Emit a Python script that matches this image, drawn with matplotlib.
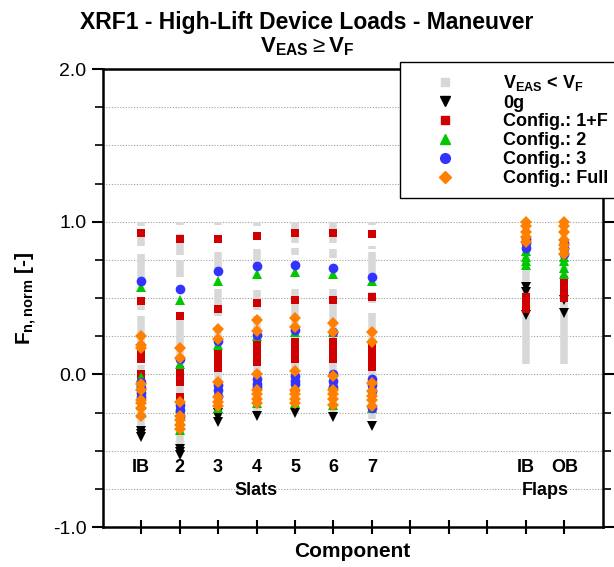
import numpy as np
import matplotlib
matplotlib.use("Agg")
import matplotlib.pyplot as plt
from matplotlib.lines import Line2D
from matplotlib.ticker import MultipleLocator

plt.rcParams['font.family'] = ['Liberation Sans', 'DejaVu Sans']
plt.rcParams['mathtext.fontset'] = 'custom'
plt.rcParams['mathtext.rm'] = 'Liberation Sans'
plt.rcParams['mathtext.bf'] = 'Liberation Sans:bold'

# components: slats IB,2..7 and flaps IB/OB
comp_x = [1, 2, 3, 4, 5, 6, 7, 11, 12]
comp_names = ["IB", "2", "3", "4", "5", "6", "7", "IB", "OB"]

# V_EAS < V_F envelope, drawn as (low, high) bands per component
gray_ranges = [
    [(0.97, 1.00), (0.84, 0.93), (0.58, 0.79), (0.42, 0.49), (0.09, 0.38), (-0.36, 0.06)],
    [(0.98, 1.00), (0.78, 0.92), (0.64, 0.75), (0.09, 0.37), (-0.47, 0.07)],
    [(0.98, 1.00), (0.87, 0.91), (0.70, 0.80), (0.38, 0.56), (-0.24, 0.30)],
    [(0.97, 1.00), (0.88, 0.93), (0.72, 0.82), (0.42, 0.55), (-0.24, 0.38)],
    [(0.86, 1.00), (0.78, 0.83), (0.42, 0.56), (-0.24, 0.42)],
    [(0.86, 1.00), (0.76, 0.82), (0.42, 0.56), (-0.26, 0.42)],
    [(0.98, 1.00), (0.90, 0.94), (0.82, 0.84), (0.65, 0.80), (0.47, 0.54), (-0.29, 0.40)],
    [(0.07, 1.00)],
    [(0.07, 1.00)],
]

load_0g = [
    [-0.37, -0.39, -0.41],
    [-0.49, -0.51, -0.53],
    [-0.25, -0.28, -0.31],
    [-0.27],
    [-0.25],
    [-0.28],
    [-0.34],
    [0.57, 0.54, 0.39],
    [0.485, 0.40],
]
cfg_1f = [
    [0.925, 0.48, 0.15, 0.12, 0.10, 0.00, -0.02],
    [0.89, 0.38, 0.03, 0.00, -0.05, -0.15],
    [0.89, 0.43, 0.15, 0.12, 0.09, 0.06, 0.04],
    [0.91, 0.465, 0.19, 0.16, 0.13, 0.10, 0.08],
    [0.925, 0.49, 0.21, 0.18, 0.15, 0.12, 0.10],
    [0.925, 0.49, 0.21, 0.18, 0.15, 0.12, 0.10],
    [0.92, 0.51, 0.17, 0.14, 0.11, 0.08, 0.05],
    [0.51, 0.48, 0.45, 0.43],
    [0.62, 0.59, 0.56, 0.53, 0.50],
]
cfg_2 = [
    [0.57, -0.02, -0.05, -0.20, -0.25],
    [0.49, 0.065, -0.22, -0.30, -0.365],
    [0.61, 0.19, -0.12, -0.22],
    [0.655, 0.25, -0.10, -0.19],
    [0.67, 0.28, -0.08, -0.19],
    [0.655, 0.28, -0.06, -0.20],
    [0.61, -0.03, -0.19, -0.22],
    [0.81, 0.77, 0.74, 0.72],
    [0.77, 0.74, 0.70, 0.66],
]
cfg_3 = [
    [0.61, -0.05, -0.09, -0.12, -0.15],
    [0.56, 0.10, -0.20, -0.23, -0.27],
    [0.675, 0.22, -0.07, -0.10, -0.14],
    [0.71, 0.26, -0.03, -0.06, -0.08],
    [0.72, 0.29, -0.01, -0.04, -0.06],
    [0.695, 0.28, 0.00, -0.04, -0.08],
    [0.64, -0.03, -0.07, -0.11, -0.22],
    [0.89, 0.86, 0.83],
    [0.86, 0.83, 0.79],
]
cfg_full = [
    [0.25, 0.19, 0.17, -0.06, -0.10, -0.17, -0.19, -0.22, -0.27],
    [0.175, 0.11, -0.18, -0.27, -0.30, -0.33, -0.36],
    [0.295, 0.23, -0.05, -0.15, -0.18, -0.21],
    [0.355, 0.285, 0.00, -0.10, -0.13, -0.16, -0.19],
    [0.37, 0.31, 0.02, -0.10, -0.13, -0.16, -0.19],
    [0.34, 0.28, -0.01, -0.10, -0.13, -0.16, -0.20],
    [0.275, 0.21, -0.055, -0.11, -0.14, -0.17, -0.21],
    [1.00, 0.97, 0.93, 0.90, 0.87],
    [1.00, 0.97, 0.93, 0.88, 0.85, 0.82, 0.79],
]


def flat(series):
    xs, ys = [], []
    for cx, vals in zip(comp_x, series):
        xs += [cx] * len(vals)
        ys += list(vals)
    return xs, ys


fig = plt.figure(figsize=(6.14, 5.67), dpi=100)
ax = fig.add_axes([0.167, 0.0705, 0.815, 0.8075])

for y in np.arange(-0.75, 2.0, 0.25):
    ax.axhline(y, color='#a0a0a0', lw=0.8, ls=(0, (1, 1.5)), zorder=0)

gray_c = '#d8d8d8'
for cx, bands in zip(comp_x, gray_ranges):
    for lo, hi in bands:
        ax.vlines(cx, lo, hi, color=gray_c, lw=5.4, zorder=1)

styles = [
    (load_0g, 'v', 'black', 7),
    (cfg_1f, 's', '#d00000', 6),
    (cfg_2, '^', '#00c800', 7),
    (cfg_3, 'o', '#3333ff', 7),
    (cfg_full, 'D', '#ff8000', 6),
]
for series, mk, col, ms in styles:
    xs, ys = flat(series)
    ax.plot(xs, ys, ls='none', marker=mk, color=col, ms=ms, mew=0, zorder=3)

# component names inside the axes
for cx, name in zip(comp_x, comp_names):
    ax.text(cx, -0.61, name, ha='center', va='center', fontsize=13, fontweight='bold')
ax.text(4, -0.76, "Slats", ha='center', va='center', fontsize=13, fontweight='bold')
ax.text(11.5, -0.76, "Flaps", ha='center', va='center', fontsize=13, fontweight='bold')

ax.set_xlim(0, 13)
ax.set_ylim(-1.0, 2.0)
ax.set_xticks(range(1, 13))
ax.set_xticklabels([])
ax.yaxis.set_major_locator(MultipleLocator(1.0))
ax.yaxis.set_minor_locator(MultipleLocator(0.25))
ax.yaxis.set_major_formatter(matplotlib.ticker.FormatStrFormatter('%.1f'))
ax.tick_params(axis='x', direction='inout', length=10, width=1.5)
ax.tick_params(axis='y', which='major', direction='out', length=8, width=1.5,
               labelsize=14, right=True)
ax.tick_params(axis='y', which='minor', direction='out', length=6, width=1.2, right=True)
for s in ax.spines.values():
    s.set_linewidth(1.8)

ax.set_xlabel("Component", fontsize=15, fontweight='bold', labelpad=2)
ax.set_ylabel(r"$\mathbf{F_{n,norm}}$ [-]", fontsize=15, fontweight='bold', labelpad=10)

fig.text(0.5, 0.96, "XRF1 - High-Lift Device Loads - Maneuver", ha='center',
         va='center', fontsize=16.5, fontweight='bold')
fig.text(0.5, 0.918, r"$\mathbf{V_{EAS}} \geq \mathbf{V_F}$", ha='center',
         va='center', fontsize=16)

handles = [
    Line2D([], [], ls='none', marker='s', color=gray_c, ms=6),
    Line2D([], [], ls='none', marker='v', color='black', ms=7),
    Line2D([], [], ls='none', marker='s', color='#d00000', ms=6),
    Line2D([], [], ls='none', marker='^', color='#00c800', ms=7),
    Line2D([], [], ls='none', marker='o', color='#3333ff', ms=7),
    Line2D([], [], ls='none', marker='D', color='#ff8000', ms=6),
]
labels = [r"$\mathbf{V_{EAS}}$ < $\mathbf{V_F}$", "0g", "Config.: 1+F", "Config.: 2",
          "Config.: 3", "Config.: Full"]
leg = fig.legend(handles, labels, loc='upper left', bbox_to_anchor=(400 / 614, 1 - 62 / 567),
                 prop={'size': 13, 'weight': 'bold'}, frameon=True, fancybox=False,
                 edgecolor='black', framealpha=1, borderpad=0.6, labelspacing=0.1,
                 handletextpad=1.3, handlelength=3.8, borderaxespad=0)
leg.get_frame().set_linewidth(1.0)

fig.savefig("out.png", dpi=100)
